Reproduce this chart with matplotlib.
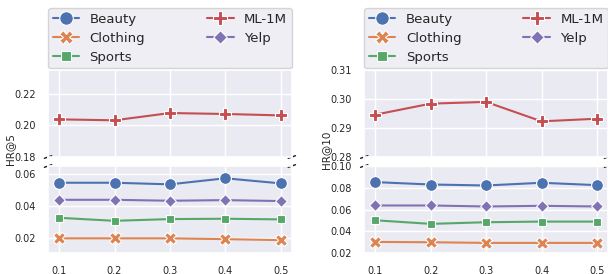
import matplotlib
matplotlib.use("Agg")
import matplotlib.pyplot as plt
import seaborn as sns

sns.set_theme(style="darkgrid")
plt.rcParams["font.family"] = ["DejaVu Sans"]

x = [0.1, 0.2, 0.3, 0.4, 0.5]
datasets = ["Beauty", "Clothing", "Sports", "ML-1M", "Yelp"]

hr5_beauty = [0.0545, 0.0545, 0.0535, 0.0573, 0.0541]
hr5_clothing = [0.0196, 0.0196, 0.0196, 0.0191, 0.0185]
hr5_sports = [0.0325, 0.0306, 0.0317, 0.0319, 0.0315]
hr5_ml1m = [0.2038, 0.2032, 0.2078, 0.2072, 0.2063]
hr5_yelp = [0.0438, 0.0438, 0.0432, 0.0436, 0.0430]

hr10_beauty = [0.0852, 0.0830, 0.0821, 0.0846, 0.0824]
hr10_clothing = [0.0302, 0.0299, 0.0293, 0.0293, 0.0293]
hr10_sports = [0.0501, 0.0468, 0.0483, 0.0489, 0.0489]
hr10_ml1m = [0.2946, 0.2984, 0.2990, 0.2923, 0.2932]
hr10_yelp = [0.0637, 0.0637, 0.0628, 0.0634, 0.0628]

hr5 = [hr5_beauty, hr5_clothing, hr5_sports, hr5_ml1m, hr5_yelp]
hr10 = [hr10_beauty, hr10_clothing, hr10_sports, hr10_ml1m, hr10_yelp]

colors = sns.color_palette("deep")[:5]
markers = ["o", "X", (4, 0, 45), "P", (4, 0, 0)]

fig = plt.figure(figsize=(6.08, 2.74), dpi=100)

panels = [
    # left, series, label, top ylim, top ticks, bottom ylim, bottom ticks, label x
    (0.079, hr5, "HR@5", (0.18, 0.235), [0.18, 0.20, 0.22],
     (0.0104, 0.065), [0.02, 0.04, 0.06], 0.017),
    (0.599, hr10, "HR@10", (0.28, 0.31), [0.28, 0.29, 0.30, 0.31],
     (0.02, 0.10), [0.02, 0.04, 0.06, 0.08, 0.10], 0.537),
]

for left, series, label, ylim_t, yt_t, ylim_b, yt_b, lx in panels:
    ax_t = fig.add_axes([left, 0.427, 0.401, 0.3175])
    ax_b = fig.add_axes([left, 0.0766, 0.401, 0.3175], sharex=ax_t)
    for ax in (ax_t, ax_b):
        for name, ys, c, m in zip(datasets, series, colors, markers):
            ax.plot(x, ys, color=c, marker=m, markersize=8.5, lw=1.5,
                    markeredgecolor="white", markeredgewidth=0.8, label=name)
        ax.tick_params(labelsize=7, pad=3)
    ax_t.set_xlim(0.08, 0.52)
    ax_t.set_xticks(x)
    ax_t.set_ylim(*ylim_t)
    ax_t.set_yticks(yt_t)
    ax_b.set_ylim(*ylim_b)
    ax_b.set_yticks(yt_b)
    ax_t.yaxis.set_major_formatter(matplotlib.ticker.FormatStrFormatter("%.2f"))
    ax_b.yaxis.set_major_formatter(matplotlib.ticker.FormatStrFormatter("%.2f"))
    ax_b.xaxis.set_major_formatter(matplotlib.ticker.FormatStrFormatter("%.1f"))
    ax_t.tick_params(labelbottom=False)

    # break marks
    d = .015
    kw = dict(transform=ax_t.transAxes, color="k", clip_on=False, lw=1)
    ax_t.plot((-d, +d), (-d, +d), **kw)
    ax_t.plot((1 - d, 1 + d), (-d, +d), **kw)
    kw.update(transform=ax_b.transAxes)
    ax_b.plot((-d, +d), (1 - d, 1 + d), **kw)
    ax_b.plot((1 - d, 1 + d), (1 - d, 1 + d), **kw)

    ax_t.legend(loc="lower left", bbox_to_anchor=(0, 1.02, 1, 0.2),
                mode="expand", ncol=2, borderaxespad=0, fontsize=9.5,
                handlelength=2.0, labelspacing=0.45, borderpad=0.35,
                markerscale=1.15)

    fig.text(lx, 0.455, label, rotation=90, ha="center", va="center",
             fontsize=7.5, color=".15")

plt.savefig("out.png", dpi=100)
